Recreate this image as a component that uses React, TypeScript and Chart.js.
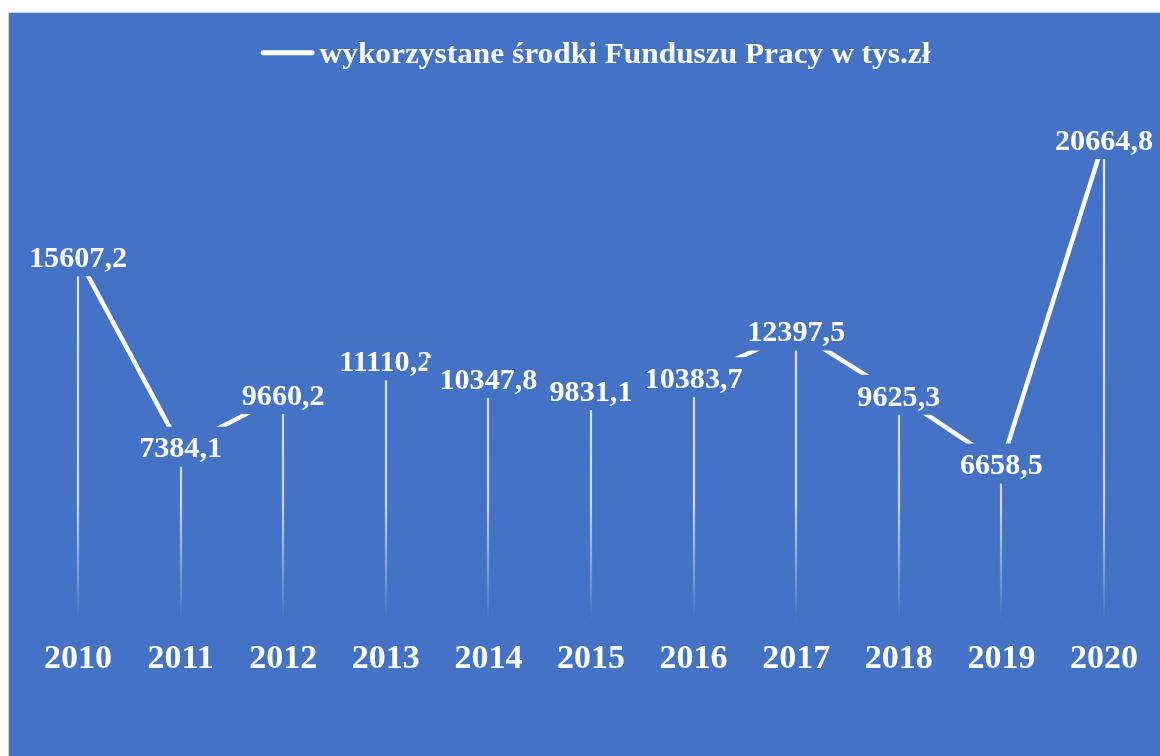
import React, { useEffect, useRef } from "react";
import { Chart, registerables } from "chart.js";

Chart.register(...registerables);

const years: string[] = ["2010", "2011", "2012", "2013", "2014", "2015", "2016", "2017", "2018", "2019", "2020"];
const values: number[] = [15607.2, 7384.1, 9660.2, 11110.2, 10347.8, 9831.1, 10383.7, 12397.5, 9625.3, 6658.5, 20664.8];
const seriesLabel = "wykorzystane środki Funduszu Pracy w tys.zł";

const BG = "#4472C4";
const FONT = "'Liberation Serif', 'DejaVu Serif', serif";

const fmt = (v: number) => v.toFixed(1).replace(".", ",");

const dropLines = {
  id: "dropLines",
  beforeDatasetsDraw(chart: any) {
    const { ctx, chartArea } = chart;
    const meta = chart.getDatasetMeta(0);
    const base = chart.scales.y.getPixelForValue(0);
    const g = ctx.createLinearGradient(0, chartArea.top, 0, base);
    g.addColorStop(0, "rgba(255,255,255,0.95)");
    g.addColorStop(0.8, "rgba(255,255,255,0.72)");
    g.addColorStop(1, "rgba(255,255,255,0.02)");
    ctx.save();
    ctx.strokeStyle = g;
    ctx.lineWidth = 2.2;
    meta.data.forEach((pt: any) => {
      ctx.beginPath();
      ctx.moveTo(Math.round(pt.x), pt.y);
      ctx.lineTo(Math.round(pt.x), base);
      ctx.stroke();
    });
    ctx.restore();
  },
};

const valueLabels = {
  id: "valueLabels",
  afterDatasetsDraw(chart: any) {
    const { ctx } = chart;
    const meta = chart.getDatasetMeta(0);
    const size = 29;
    const sx = 1.04;
    ctx.save();
    ctx.font = `bold ${size}px ${FONT}`;
    ctx.textAlign = "center";
    ctx.textBaseline = "alphabetic";
    meta.data.forEach((pt: any, i: number) => {
      const txt = fmt(values[i]);
      const w = ctx.measureText(txt).width * sx;
      ctx.fillStyle = BG;
      ctx.fillRect(pt.x - w / 2 - 12, pt.y - 21, w + 24, 40);
      ctx.save();
      ctx.translate(pt.x, pt.y + size * 0.338);
      ctx.scale(sx, 1);
      ctx.fillStyle = "#ffffff";
      ctx.fillText(txt, 0, 0);
      ctx.restore();
    });
    ctx.restore();
  },
};

const topLegend = {
  id: "topLegend",
  afterDraw(chart: any) {
    const { ctx } = chart;
    const sx = 1.045;
    ctx.save();
    ctx.font = `bold 30px ${FONT}`;
    const tw = ctx.measureText(seriesLabel).width * sx;
    const lineW = 54;
    const gap = 5;
    const total = lineW + gap + tw;
    const cx = 586.5;
    const x0 = cx - total / 2;
    ctx.strokeStyle = "#ffffff";
    ctx.lineWidth = 5;
    ctx.lineCap = "round";
    ctx.beginPath();
    ctx.moveTo(x0 + 2.5, 39.7);
    ctx.lineTo(x0 + lineW - 2.5, 39.7);
    ctx.stroke();
    ctx.translate(x0 + lineW + gap, 50);
    ctx.scale(sx, 1);
    ctx.fillStyle = "#ffffff";
    ctx.textAlign = "left";
    ctx.textBaseline = "alphabetic";
    ctx.fillText(seriesLabel, 0, 0);
    ctx.restore();
  },
};

export default function App() {
  const ref = useRef<HTMLCanvasElement | null>(null);

  useEffect(() => {
    if (!ref.current) return;
    const chart = new Chart(ref.current, {
      type: "line",
      data: {
        labels: years,
        datasets: [
          {
            label: seriesLabel,
            data: values,
            borderColor: "#ffffff",
            borderWidth: 4.5,
            pointRadius: 0,
            pointHoverRadius: 0,
            tension: 0,
            fill: false,
          },
        ],
      },
      options: {
        responsive: false,
        animation: false,
        layout: { padding: { left: 17.7, right: 4.7, top: 26.7, bottom: 55.5 } },
        scales: {
          x: {
            offset: true,
            grid: { display: false, drawTicks: false },
            border: { display: false },
            ticks: {
              color: "#ffffff",
              font: { family: FONT, size: 34, weight: "bold" },
              padding: 20.5,
              maxRotation: 0,
              autoSkip: false,
            },
          },
          y: { display: false, min: 0, max: 25000 },
        },
        plugins: {
          legend: { display: false },
          tooltip: { enabled: false },
        },
      },
      plugins: [dropLines, valueLabels, topLegend],
    });
    return () => chart.destroy();
  }, []);

  return (
    <div
      style={{
        position: "fixed",
        left: 8,
        top: 12,
        width: 1152,
        height: 744,
        boxSizing: "border-box",
        borderLeft: "1px solid #d4d4d4",
        borderTop: "1px solid #d4d4d4",
        background: BG,
      }}
    >
      <canvas ref={ref} width={1151} height={743} style={{ display: "block", width: 1151, height: 743 }} />
    </div>
  );
}
